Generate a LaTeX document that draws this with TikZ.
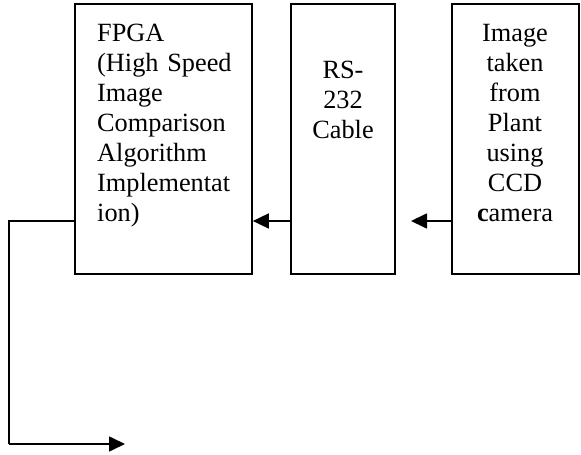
\documentclass[tikz,border=0pt]{standalone}
\usepackage{fontspec}
\setmainfont{Liberation Serif}
\usetikzlibrary{arrows.meta}
\tikzset{
  box/.style={draw=black, line width=1.7bp, inner sep=0pt},
  txt/.style={inner sep=0pt, font=\fontsize{26.3bp}{30bp}\selectfont},
  arr/.style={line width=1.7bp, -{Triangle[length=16bp 0, width=15bp 0]}},
  ln/.style={line width=1.7bp}
}
\begin{document}
\begin{tikzpicture}[x=1bp, y=-1bp]
\useasboundingbox (0,0) rectangle (581,455);
% boxes
\node[box, minimum width=177bp, minimum height=270bp] (fpga) at (163.5,139) {};
\node[box, minimum width=104bp, minimum height=270bp] (rs) at (343,139) {};
\node[box, minimum width=127bp, minimum height=270bp] (img) at (515.5,139) {};
% texts
\node[txt, anchor=base west, text width=160bp, align=left] (fpgat) at (97,41.5)
  {FPGA\\(High Speed\\Image\\Comparison\\Algorithm\\Implementat\\ion)};
\node[txt, anchor=base, text width=100bp, align=center] (rst) at (343,79)
  {RS-\\232\\Cable};
\node[txt, anchor=base, text width=125bp, align=center] (imgt) at (515,41.5)
  {Image\\taken\\from\\Plant\\using\\CCD\\\textbf{c}amera};
% connectors
\coordinate (a1) at (411,221);
\coordinate (yl) at (0,221);
\coordinate (c1) at (9,221);
\coordinate (c2) at (9,444);
\coordinate (out) at (125,444);
\draw[arr] (img.west |- a1) -- (a1);
\draw[arr] (rs.west |- yl) -- (fpga.east |- yl);
\draw[ln] (fpga.west |- yl) -- (c1) -- (c2);
\draw[arr] (c2) -- (out);
\end{tikzpicture}
\end{document}
